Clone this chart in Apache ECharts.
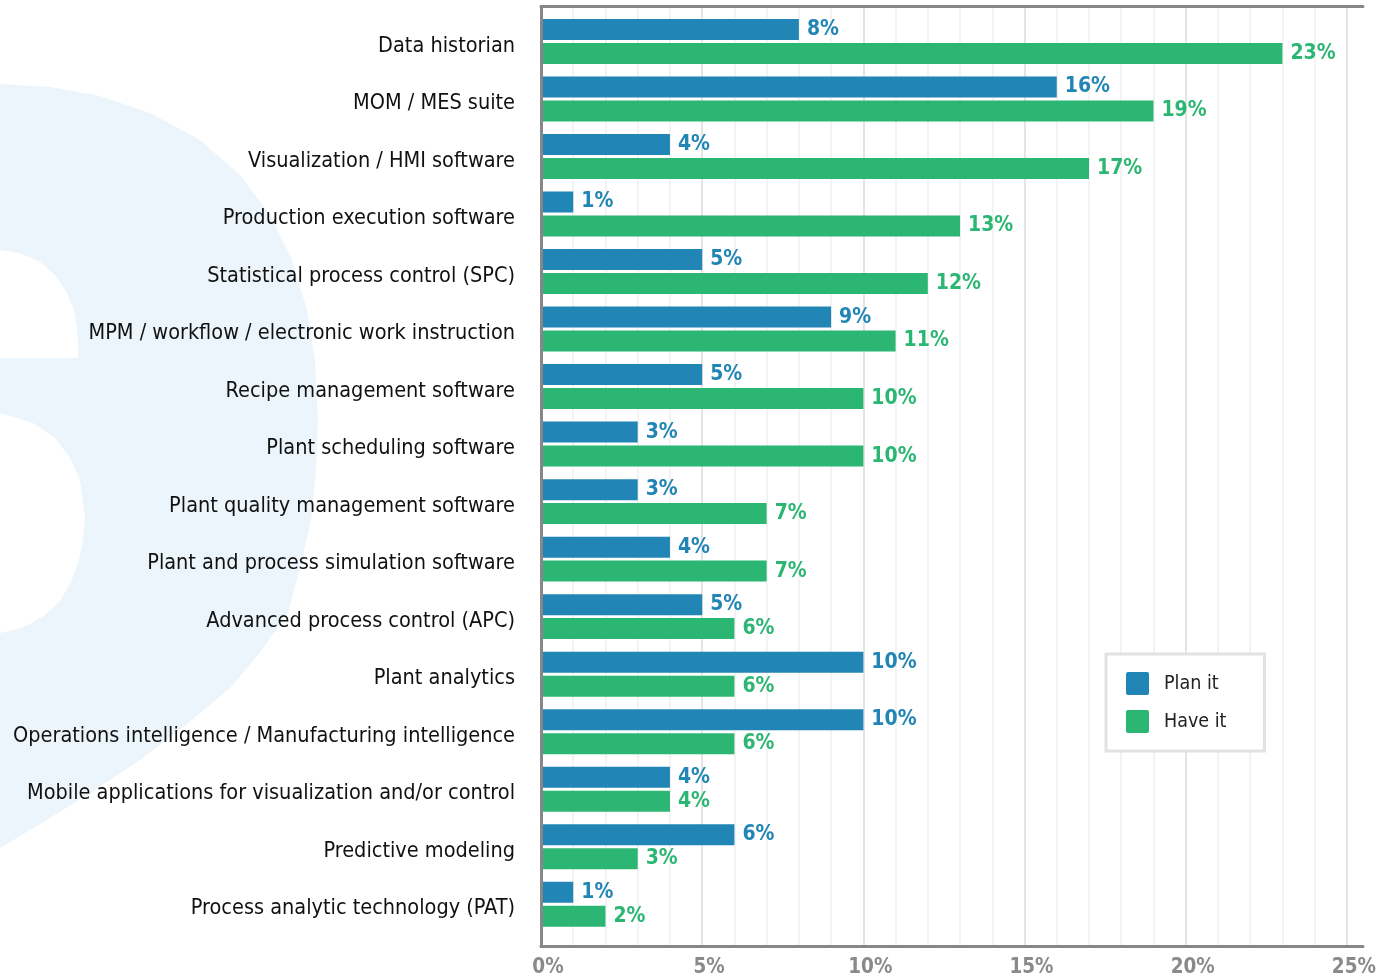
<!DOCTYPE html>
<html>
<head>
<meta charset="utf-8">
<script src="https://cdn.jsdelivr.net/npm/echarts@6/dist/echarts.min.js"></script>
<style>
html,body{margin:0;padding:0;background:#fff;}
#chart{width:1386px;height:980px;}
</style>
</head>
<body>
<div id="chart"></div>
<script>
// ---- data ----
var categories = [
  'Data historian',
  'MOM / MES suite',
  'Visualization / HMI software',
  'Production execution software',
  'Statistical process control (SPC)',
  'MPM / workflow / electronic work instruction',
  'Recipe management software',
  'Plant scheduling software',
  'Plant quality management software',
  'Plant and process simulation software',
  'Advanced process control (APC)',
  'Plant analytics',
  'Operations intelligence / Manufacturing intelligence',
  'Mobile applications for visualization and/or control',
  'Predictive modeling',
  'Process analytic technology (PAT)'
];
var planIt = [8, 16, 4, 1, 5, 9, 5, 3, 3, 4, 5, 10, 10, 4, 6, 1];
var haveIt = [23, 19, 17, 13, 12, 11, 10, 10, 7, 7, 6, 6, 6, 4, 3, 2];
var seriesNames = ['Plan it', 'Have it'];
var xTickLabels = [0, 5, 10, 15, 20, 25];

// ---- styles ----
var BLUE = '#2185B5';
var GREEN = '#2CB673';
var FONT = "'Liberation Sans Narrow', 'DejaVu Sans Condensed', 'Arial Narrow', sans-serif";
var XMAX = 25.5;

var chart = echarts.init(document.getElementById('chart'), null, {renderer: 'canvas'});

var gridColors = ['#e4e4e4', '#f3f3f3', '#f3f3f3', '#f3f3f3', '#f3f3f3'];

function valueLabel(color) {
  return {
    show: true,
    position: 'right',
    distance: 8,
    color: color,
    fontFamily: FONT,
    fontWeight: 'bold',
    fontSize: 21,
    formatter: function (p) { return p.value + '%'; }
  };
}

var option = {
  backgroundColor: '#ffffff',
  animation: false,
  graphic: [
    {
      type: 'polygon', z: -10, silent: true,
      shape: { points: [[-5,84],[0,84],[50,87],[100,96],[150,113],[200,140],[240,175],[270,215],[292,260],[307,310],[315,360],[318,420],[316,470],[311,520],[300,568],[288,612],[262,650],[230,688],[187,724],[140,760],[90,793],[45,821],[0,848],[-5,848]] },
      style: { fill: '#EBF5FB' }
    },
    {
      type: 'polygon', z: -9, silent: true,
      shape: { points: [[-5,250],[0,250],[20,253],[40,262],[55,275],[67,293],[74,310],[77,327],[78,345],[78,358],[0,358],[-5,358]] },
      style: { fill: '#ffffff' }
    },
    {
      type: 'polygon', z: -9, silent: true,
      shape: { points: [[-5,413],[0,413],[33,423],[55,438],[70,458],[80,480],[85,517],[83,540],[79,560],[71,582],[60,601],[45,615],[30,624],[15,630],[0,633],[-5,633]] },
      style: { fill: '#ffffff' }
    }
  ],
  legend: {
    data: seriesNames,
    orient: 'vertical',
    left: 1106,
    top: 654,
    padding: [18, 38, 18, 20],
    itemWidth: 23,
    itemHeight: 23,
    itemGap: 15,
    icon: 'path://M2,0 L21,0 Q23,0 23,2 L23,21 Q23,23 21,23 L2,23 Q0,23 0,21 L0,2 Q0,0 2,0 Z',
    borderColor: '#e2e2e2',
    borderWidth: 3,
    backgroundColor: '#ffffff',
    textStyle: {
      fontFamily: FONT,
      fontSize: 19.5,
      color: '#222',
      padding: [0, 0, 0, 10]
    }
  },
  grid: [
    { left: 541, right: 23, top: 6.5, bottom: 34, containLabel: false, outerBoundsMode: 'none' },
    { left: 541, right: 23, top: 12.7, bottom: 47, containLabel: false, outerBoundsMode: 'none' }
  ],
  xAxis: [
    {
      gridIndex: 0, type: 'value', min: 0, max: XMAX, interval: 1, position: 'bottom',
      axisLine: { show: true, lineStyle: { color: '#87878a', width: 3 } },
      axisTick: { show: false },
      splitLine: { show: true, showMaxLine: false, lineStyle: { color: gridColors, width: 2 } },
      axisLabel: {
        show: true, margin: 11, color: '#8a8a8c', fontFamily: FONT, fontWeight: 'bold', fontSize: 20.5,
        padding: [0, 0, 0, 14],
        formatter: function (v) { return xTickLabels.indexOf(v) >= 0 ? v + '%' : ''; }
      }
    },
    {
      gridIndex: 0, type: 'value', min: 0, max: XMAX, interval: 1, position: 'top', z: 10,
      axisLine: { show: true, onZero: false, lineStyle: { color: '#87878a', width: 3 } },
      axisTick: { show: false }, splitLine: { show: false }, axisLabel: { show: false }
    },
    {
      gridIndex: 1, type: 'value', min: 0, max: XMAX, interval: 1, show: false,
      splitLine: { show: false }
    }
  ],
  yAxis: [
    {
      gridIndex: 0, type: 'category', data: [''], z: 10,
      axisLine: { show: true, onZero: false, lineStyle: { color: '#87878a', width: 3 } },
      axisTick: { show: false }, axisLabel: { show: false }, splitLine: { show: false }
    },
    {
      gridIndex: 1, type: 'category', data: categories, inverse: true,
      axisLine: { show: false }, axisTick: { show: false }, splitLine: { show: false },
      axisLabel: {
        margin: 26,
        formatter: function (v) { return '{l|' + v + '}'; },
        rich: {
          l: { color: '#111', fontFamily: FONT, fontSize: 21.5, padding: [9, 0, 0, 0] }
        }
      }
    }
  ],
  series: [
    {
      name: seriesNames[0], type: 'bar', xAxisIndex: 2, yAxisIndex: 1,
      data: planIt, barWidth: 21, barGap: '14%',
      itemStyle: { color: BLUE },
      label: valueLabel(BLUE)
    },
    {
      name: seriesNames[1], type: 'bar', xAxisIndex: 2, yAxisIndex: 1,
      data: haveIt, barWidth: 21, barGap: '14%',
      itemStyle: { color: GREEN },
      label: valueLabel(GREEN)
    }
  ]
};

chart.setOption(option);
</script>
</body>
</html>
